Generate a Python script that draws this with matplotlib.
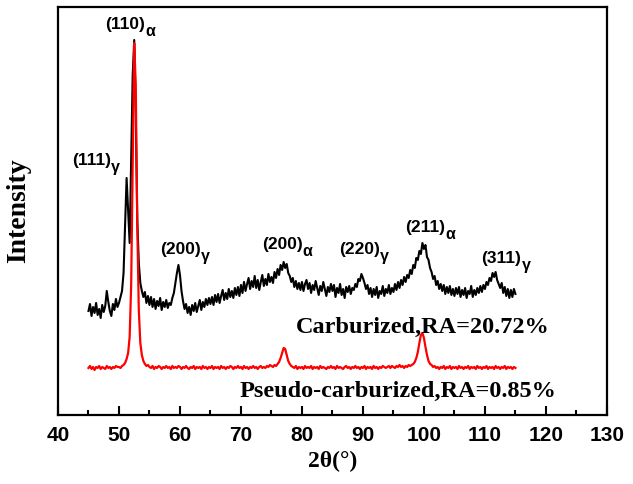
import numpy as np
import matplotlib
matplotlib.use("Agg")
import matplotlib.pyplot as plt
from matplotlib.ticker import MultipleLocator

plt.rcParams["font.family"] = ["Liberation Sans", "DejaVu Sans"]

# 2theta sampling grid (deg), 45..115 step 0.25
TWO_THETA = np.arange(45.0, 115.001, 0.25)

# carburized pattern (arb. units), one row per 5 deg
CARB = [
    104, 111, 99, 108, 102, 112, 100, 106, 97, 110, 103, 109, 124, 113, 104, 99, 111, 105, 116, 108,
    112, 118, 124, 142, 190, 237, 205, 172, 255, 340, 375, 300, 195, 152, 132, 124, 118, 123, 112, 119,
    110, 118, 108, 116, 106, 114, 109, 117, 105, 113, 108, 115, 107, 112, 110, 117, 122, 132, 142, 150,
    140, 124, 114, 106, 111, 102, 108, 100, 110, 104, 112, 103, 109, 115, 105, 113, 108, 116, 110, 117,
    111, 118, 110, 120, 113, 121, 112, 119, 125, 115, 122, 116, 126, 118, 124, 117, 127, 120, 128, 119,
    130, 122, 133, 124, 131, 137, 126, 134, 128, 139, 127, 135, 125, 133, 140, 129, 136, 130, 141, 133,
    138, 132, 143, 137, 146, 140, 150, 145, 153, 147, 151, 142, 139, 133, 137, 128, 134, 126, 132, 125,
    133, 124, 131, 135, 126, 132, 122, 130, 125, 134, 127, 120, 129, 124, 133, 126, 119, 128, 123, 131,
    124, 130, 118, 127, 122, 131, 120, 126, 117, 128, 123, 129, 121, 127, 125, 131, 128, 136, 134, 141,
    137, 132, 126, 130, 121, 127, 118, 126, 120, 128, 117, 124, 121, 129, 119, 126, 122, 130, 121, 127,
    123, 131, 125, 133, 127, 135, 130, 138, 133, 140, 137, 145, 141, 150, 147, 157, 155, 164, 161, 172,
    166, 170, 158, 155, 147, 143, 136, 139, 130, 134, 126, 131, 124, 130, 121, 128, 122, 129, 120, 126,
    119, 127, 121, 128, 118, 125, 120, 127, 117, 124, 121, 129, 118, 125, 120, 127, 122, 129, 123, 130,
    126, 133, 130, 137, 134, 142, 138, 143, 135, 131, 127, 132, 122, 128, 119, 126, 117, 125, 118, 126,
    121,
]

# pseudo-carburized pattern
PSEUDO = [
    47, 49, 46, 48, 45, 48, 47, 49, 46, 48, 47, 46, 49, 47, 48, 46, 48, 47, 49, 48,
    48, 47, 49, 50, 52, 56, 62, 78, 130, 250, 372, 330, 190, 105, 72, 60, 54, 51, 49, 50,
    48, 47, 49, 46, 48, 47, 49, 48, 46, 48, 47, 49, 47, 48, 46, 49, 47, 48, 47, 49,
    48, 46, 48, 47, 49, 47, 46, 48, 47, 49, 46, 48, 47, 48, 46, 49, 47, 48, 46, 48,
    47, 49, 46, 48, 47, 48, 46, 49, 47, 48, 46, 48, 47, 49, 48, 46, 48, 47, 49, 47,
    48, 46, 49, 47, 48, 46, 48, 47, 49, 47, 48, 46, 48, 49, 47, 48, 47, 49, 48, 50,
    49, 48, 50, 49, 51, 53, 57, 62, 67, 66, 60, 54, 51, 49, 48, 47, 49, 46, 48, 47,
    48, 46, 49, 47, 48, 47, 49, 46, 48, 47, 48, 46, 49, 47, 48, 47, 46, 48, 47, 49,
    47, 48, 46, 49, 47, 48, 47, 46, 48, 49, 47, 48, 46, 48, 47, 49, 47, 48, 46, 48,
    47, 49, 46, 48, 47, 48, 46, 49, 47, 48, 46, 48, 47, 49, 48, 47, 48, 49, 47, 49,
    48, 47, 49, 48, 50, 48, 49, 47, 49, 48, 50, 49, 50, 51, 53, 57, 63, 72, 80, 82,
    77, 68, 60, 54, 51, 50, 48, 49, 47, 48, 46, 48, 47, 49, 46, 48, 47, 49, 46, 48,
    47, 48, 46, 49, 47, 48, 46, 48, 47, 49, 46, 48, 47, 48, 46, 49, 47, 48, 46, 48,
    47, 49, 46, 48, 47, 48, 46, 49, 47, 48, 46, 48, 47, 49, 46, 48, 47, 48, 46, 48,
    47,
]
assert len(CARB) == len(TWO_THETA) == len(PSEUDO)

# peak labels: (2theta of left edge, baseline intensity, hkl, phase)
PEAK_LABELS = [
    (47.8, 386, "(110)", "α"),
    (42.3, 250, "(111)", "γ"),
    (56.7, 161, "(200)", "γ"),
    (73.4, 166, "(200)", "α"),
    (86.1, 161, "(220)", "γ"),
    (96.9, 183, "(211)", "α"),
    (109.4, 152, "(311)", "γ"),
]

fig = plt.figure(figsize=(6.33, 4.84), dpi=100)
ax = fig.add_axes([0.0916, 0.1426, 0.8672, 0.843])

ax.plot(TWO_THETA, CARB, color="black", lw=1.5)
ax.plot(TWO_THETA, PSEUDO, color="#ff0000", lw=1.6)

for x, y, hkl, ph in PEAK_LABELS:
    t = ax.text(x, y, hkl, fontsize=12.5, weight="bold", ha="left", va="baseline")
    ax.annotate(ph, xy=(1.0, 0.0), xycoords=t, xytext=(0.2, 0), textcoords="offset points",
                fontsize=11.5, weight="bold", ha="left", va="center")

serif = ["Liberation Serif", "DejaVu Serif"]
ax.text(79.0, 82, "Carburized,RA=20.72%", family=serif, weight="bold", fontsize=17.5,
        ha="left", va="baseline")
ax.text(69.8, 18, "Pseudo-carburized,RA=0.85%", family=serif, weight="bold", fontsize=17.5,
        ha="left", va="baseline")

ax.set_xlim(40, 130)
ax.set_ylim(0, 408)
ax.set_yticks([])
ax.xaxis.set_major_locator(MultipleLocator(10))
ax.xaxis.set_minor_locator(MultipleLocator(5))
ax.tick_params(axis="x", which="major", direction="in", length=6.5, width=1.5, pad=8)
ax.tick_params(axis="x", which="minor", direction="in", length=3.6, width=1.5)
for lab in ax.get_xticklabels():
    lab.set_fontweight("bold")
    lab.set_fontsize(15)
for s in ax.spines.values():
    s.set_linewidth(1.6)

ax.set_xlabel("2θ(°)", family=serif, weight="bold", fontsize=17, labelpad=4)
ax.set_ylabel("Intensity", family=serif, weight="bold", fontsize=20, labelpad=19)

fig.savefig("out.png", dpi=100)
